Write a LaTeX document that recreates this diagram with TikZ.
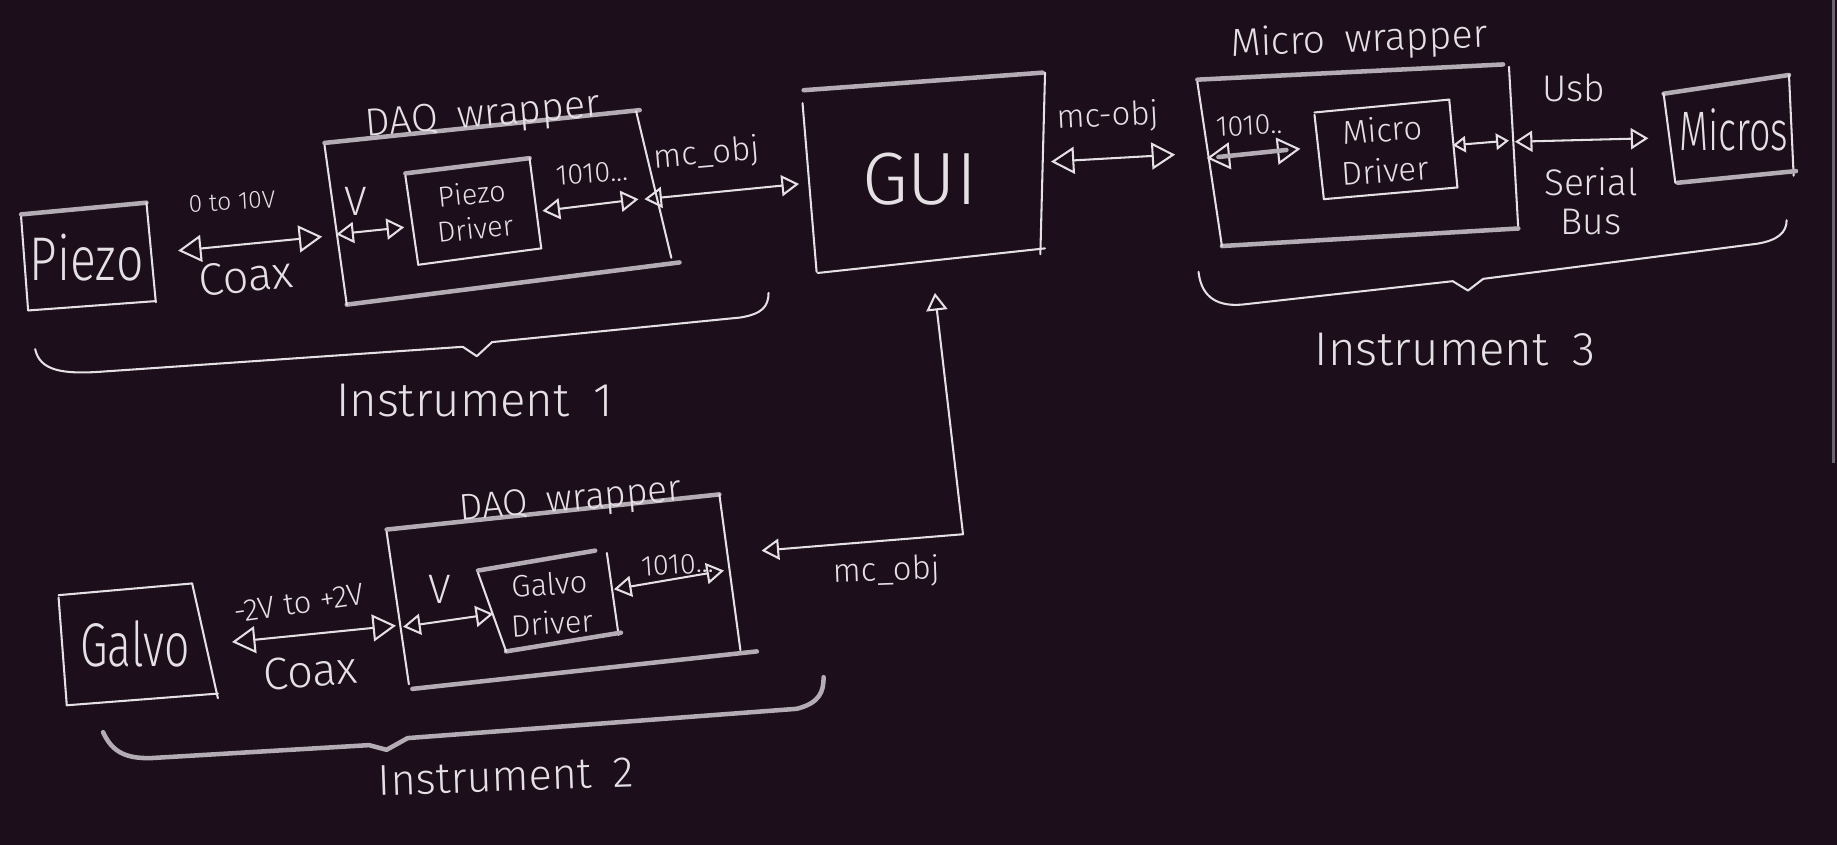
\documentclass[tikz,border=0pt]{standalone}
\usepackage{fontspec}
\setmainfont{Fira Sans Light}
\usetikzlibrary{arrows.meta}
\definecolor{bg}{HTML}{1C0E1B}
\definecolor{chalk}{HTML}{E4E0E4}
\definecolor{chalkdim}{HTML}{B4ACB4}
\definecolor{scroll}{HTML}{6A6470}
\newcommand\fsz[2]{\fontsize{#1}{#2}\selectfont}
\tikzset{
  thin/.style={draw=chalk, line width=1pt, line cap=round, line join=round},
  heavy/.style={draw=chalkdim, line width=2.2pt, line cap=round, line join=round},
  big/.style={thin, {Triangle[open,length=0.4cm,width=0.46cm]}-{Triangle[open,length=0.4cm,width=0.46cm]}},
  mid/.style={thin, {Triangle[open,length=0.3cm,width=0.36cm]}-{Triangle[open,length=0.3cm,width=0.36cm]}},
  small/.style={thin, {Triangle[open,length=0.22cm,width=0.28cm]}-{Triangle[open,length=0.22cm,width=0.28cm]}},
  lbl/.style={text=chalk, inner sep=0pt, align=center},
}
\begin{document}
\begin{tikzpicture}[x=0.02cm,y=-0.02cm]
\fill[bg] (0,0) rectangle (1568,721);
\useasboundingbox (0,0) rectangle (1568,721);
\draw[scroll, line width=1.2pt] (1565,0) -- (1565,395);

% ---------- Instrument 1 ----------
% Piezo box
\draw[heavy] (18,183) -- (125,173);
\draw[thin] (125,173) -- (133,258);
\draw[thin] (24,265) -- (133,257);
\draw[thin] (18,185) -- (24,265);
\node[lbl, font=\fsz{30}{32}, xscale=0.78] (piezo) at (74,220) {Piezo};

\coordinate (a1s) at (152,214);
\coordinate (a1e) at (275,202);
\draw[big] (a1s) -- (a1e);
\node[lbl, font=\fsz{12}{14}, rotate=3] (l0to10) at (198,172) {0 to 10V};
\node[lbl, font=\fsz{22}{24}, rotate=6] (coax1) at (210,236) {Coax};

% DAQ wrapper 1
\draw[heavy] (277,122) -- (546,94);
\draw[thin] (543,95) -- (573,220);
\draw[heavy] (296,260) -- (580,224);
\draw[thin] (277,124) -- (296,260);
\node[lbl, font=\fsz{19}{21}, rotate=5] (daq1) at (412,100) {DAQ\enspace wrapper};
\node[lbl, font=\fsz{20}{22}] (v1) at (304,172) {V};

% Piezo driver
\draw[heavy] (346,148) -- (452,135);
\draw[thin] (452,135) -- (462,212);
\draw[thin] (357,226) -- (462,212);
\draw[thin] (346,150) -- (357,226);
\node[lbl, font=\fsz{14}{17}, rotate=6] (pdrv) at (404,180) {Piezo\\Driver};

\coordinate (a2s) at (287,200);
\coordinate (a2e) at (345,194);
\draw[mid] (a2s) -- (a2e);
\coordinate (a3s) at (463,180);
\coordinate (a3e) at (545,170);
\draw[mid] (a3s) -- (a3e);
\node[lbl, font=\fsz{14}{16}, rotate=4] (b1) at (505,148) {1010...};

\coordinate (a4s) at (550,170);
\coordinate (a4e) at (682,157);
\draw[mid] (a4s) -- (a4e);
\node[lbl, font=\fsz{16}{18}, rotate=5] (mc1) at (603,132) {mc\_obj};

% brace 1
\draw[thin] (30,298) .. controls (34,316) and (52,320) .. (90,317)
  -- (395,296) -- (407,304) -- (420,292) -- (632,271)
  .. controls (650,268) and (656,262) .. (656,250);
\node[lbl, font=\fsz{23}{25}] (inst1) at (405,342) {Instrument\enspace 1};

% ---------- GUI ----------
\draw[heavy] (686,77) -- (890,62);
\draw[thin] (892,62) -- (888,217);
\draw[thin] (698,233) -- (892,212);
\draw[thin] (685,88) -- (697,232);
\node[lbl, font=\fsz{36}{38}] (gui) at (785,153) {GUI};

\coordinate (a5s) at (897,138);
\coordinate (a5e) at (1003,132);
\draw[big] (a5s) -- (a5e);
\node[lbl, font=\fsz{16}{18}, rotate=3] (mc2) at (946,100) {mc-obj};

% ---------- Instrument 3 ----------
\draw[heavy] (1022,68) -- (1283,55);
\draw[thin] (1288,57) -- (1296,196);
\draw[heavy] (1043,210) -- (1296,195);
\draw[thin] (1022,70) -- (1043,210);
\node[lbl, font=\fsz{19}{21}, rotate=2] (mwrap) at (1160,35) {Micro\enspace wrapper};

\coordinate (a6s) at (1030,135);
\coordinate (a6e) at (1110,127);
\draw[big] (a6s) -- (a6e);
\draw[heavy] (1040,134) -- (1098,128);
\node[lbl, font=\fsz{14}{16}, rotate=3] (b3) at (1066,107) {1010..};

\draw[thin] (1122,96) -- (1237,85);
\draw[thin] (1237,85) -- (1244,160);
\draw[thin] (1130,170) -- (1244,160);
\draw[thin] (1122,98) -- (1130,170);
\node[lbl, font=\fsz{16}{20}, rotate=4] (mdrv) at (1181,128) {Micro\\Driver};

\coordinate (a7s) at (1240,124);
\coordinate (a7e) at (1288,120);
\draw[small] (a7s) -- (a7e);

\coordinate (a8s) at (1293,121);
\coordinate (a8e) at (1407,118);
\draw[mid] (a8s) -- (a8e);
\node[lbl, font=\fsz{18}{20}] (usb) at (1343,75) {Usb};
\node[lbl, font=\fsz{18}{19}] (serial) at (1358,172) {Serial\\Bus};

\draw[heavy] (1420,80) -- (1527,64);
\draw[thin] (1527,64) -- (1531,150);
\draw[heavy] (1432,156) -- (1533,146);
\draw[thin] (1420,80) -- (1430,156);
\node[lbl, font=\fsz{27}{29}, xscale=0.68] (micros) at (1480,111) {Micros};

\draw[thin] (1023,232) .. controls (1025,250) and (1035,262) .. (1060,260)
  -- (1240,240) -- (1253,248) -- (1266,238) -- (1500,208)
  .. controls (1518,205) and (1525,198) .. (1525,188);
\node[lbl, font=\fsz{23}{25}] (inst3) at (1242,298) {Instrument\enspace 3};

% ---------- Instrument 2 ----------
\draw[thin] (50,508) -- (164,498);
\draw[thin] (164,498) -- (186,596);
\draw[thin] (57,602) -- (186,592);
\draw[thin] (50,510) -- (57,602);
\node[lbl, font=\fsz{30}{32}, xscale=0.72] (galvo) at (115,550) {Galvo};

\coordinate (a9s) at (198,548);
\coordinate (a9e) at (338,534);
\draw[big] (a9s) -- (a9e);
\node[lbl, font=\fsz{15}{17}, rotate=8] (volt2) at (255,515) {-2V to +2V};
\node[lbl, font=\fsz{22}{24}, rotate=4] (coax2) at (265,573) {Coax};

\draw[heavy] (330,452) -- (614,422);
\draw[thin] (614,422) -- (632,555);
\draw[heavy] (352,588) -- (646,556);
\draw[thin] (330,454) -- (349,584);
\node[lbl, font=\fsz{18}{20}, rotate=5] (daq2) at (487,428) {DAQ\enspace wrapper};
\node[lbl, font=\fsz{20}{22}] (v2) at (375,503) {V};

\draw[heavy] (408,487) -- (508,470);
\draw[thin] (518,472) -- (528,542);
\draw[heavy] (432,556) -- (530,540);
\draw[thin] (408,489) -- (432,556);
\node[lbl, font=\fsz{15}{19}, rotate=4] (gdrv) at (470,515) {Galvo\\Driver};

\coordinate (a10s) at (344,535);
\coordinate (a10e) at (421,524);
\draw[mid] (a10s) -- (a10e);
\coordinate (a11s) at (524,503);
\coordinate (a11e) at (618,487);
\draw[mid] (a11s) -- (a11e);
\node[lbl, font=\fsz{14}{16}, rotate=4] (b2) at (578,482) {1010...};

\coordinate (g2a) at (650,470);
\coordinate (g2c) at (822,456);
\coordinate (g2b) at (798,250);
\draw[mid] (g2a) -- (g2c) -- (g2b);
\node[lbl, font=\fsz{16}{18}, rotate=2] (mc3) at (757,488) {mc\_obj};

\draw[heavy] (88,625) .. controls (95,640) and (105,648) .. (130,647)
  -- (315,636) -- (330,640) -- (348,630) -- (680,605)
  .. controls (700,600) and (703,590) .. (703,578);
\node[lbl, font=\fsz{21}{23}, rotate=2] (inst2) at (432,663) {Instrument\enspace 2};
\end{tikzpicture}
\end{document}
